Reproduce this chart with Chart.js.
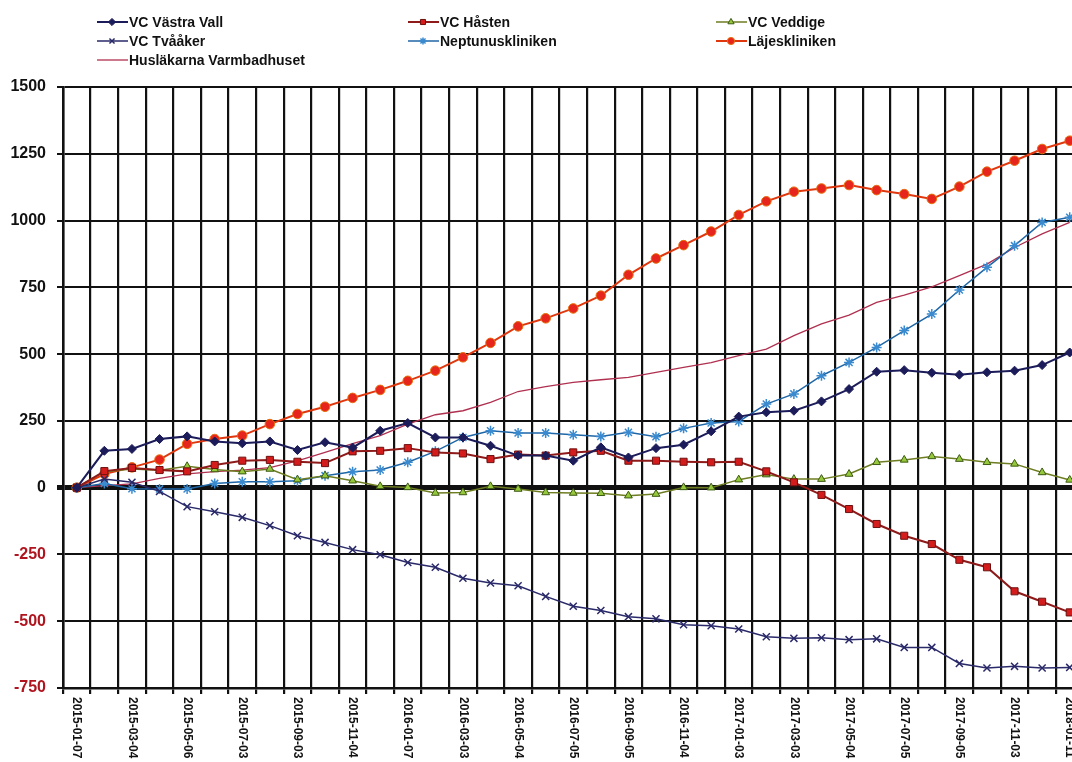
<!DOCTYPE html>
<html>
<head>
<meta charset="utf-8">
<script src="https://cdn.jsdelivr.net/npm/chart.js@4.4.0/dist/chart.umd.min.js"></script>
<style>
  html, body { margin: 0; padding: 0; background: #fff; overflow: hidden; }
  #wrap { width: 1090px; height: 762px; }
</style>
</head>
<body>
<div id="wrap"><canvas id="myChart" width="1090" height="762"></canvas></div>
<script>
// kategorier (bara varannan är utskriven i originalet)
const categories = [
  "2015-01-07", "", "2015-03-04", "", "2015-05-06", "", "2015-07-03", "", "2015-09-03", "",
  "2015-11-04", "", "2016-01-07", "", "2016-03-03", "", "2016-05-04", "", "2016-07-05", "",
  "2016-09-05", "", "2016-11-04", "", "2017-01-03", "", "2017-03-03", "", "2017-05-04", "",
  "2017-07-05", "", "2017-09-05", "", "2017-11-03", "", "2018-01-11"
];

const vastraVall = [0, 138, 145, 182, 192, 173, 166, 173, 141, 170, 150, 213, 242, 188, 188, 157, 120, 120, 101, 151, 113, 148, 161, 211, 266, 282, 288, 323, 369, 434, 440, 430, 423, 432, 438, 459, 506];
const hasten = [0, 62, 74, 66, 61, 85, 101, 104, 97, 92, 136, 138, 148, 132, 128, 107, 124, 120, 132, 138, 101, 101, 97, 95, 97, 61, 20, -27, -80, -136, -180, -211, -270, -298, -388, -427, -467];
const veddige = [0, 60, 70, 65, 80, 68, 60, 70, 30, 45, 26, 5, 1, -20, -18, 5, -5, -18, -20, -21, -30, -24, 1, 0, 30, 49, 32, 32, 51, 95, 104, 117, 107, 95, 89, 57, 29];
const tvaaker = [0, 32, 20, -14, -71, -90, -111, -142, -180, -205, -232, -251, -280, -298, -339, -357, -367, -407, -444, -460, -483, -491, -513, -517, -529, -558, -564, -562, -569, -566, -598, -598, -658, -675, -669, -675, -673];
const neptunus = [0, 16, -4, -5, -5, 16, 22, 22, 26, 45, 60, 66, 95, 136, 188, 213, 205, 205, 198, 192, 207, 191, 222, 242, 248, 313, 351, 419, 469, 525, 588, 650, 740, 825, 906, 993, 1012];
const lajes = [0, 51, 76, 105, 164, 182, 195, 238, 276, 303, 336, 366, 400, 438, 488, 542, 604, 634, 671, 719, 797, 858, 908, 959, 1021, 1072, 1108, 1120, 1133, 1114, 1099, 1081, 1127, 1183, 1224, 1268, 1299];
const varmbadhuset = [0, 8, 14, 35, 52, 60, 66, 75, 100, 132, 165, 195, 238, 273, 288, 319, 360, 378, 394, 404, 413, 432, 450, 468, 494, 519, 569, 613, 646, 694, 721, 752, 794, 837, 899, 950, 993];

const yTicks = { min: -750, max: 1500, step: 250 };

const FONT = '"Liberation Sans", Arial, sans-serif';

// legend i tre kolumner, ritas själv
const legendSlots = [[97, 22], [408, 22], [716, 22], [97, 41], [408, 41], [716, 41], [97, 60]];

const legendAndLabels = {
  id: "legendAndLabels",
  afterDraw(chart) {
    const ctx = chart.ctx;
    const xScale = chart.scales.x;

    // x-etiketter, roterade uppifrån och ner
    ctx.save();
    ctx.fillStyle = "#111";
    ctx.font = "bold 12px " + FONT;
    ctx.textAlign = "left";
    ctx.textBaseline = "middle";
    categories.forEach((lab, i) => {
      if (!lab) return;
      const x = xScale.getPixelForValue(i);
      ctx.save();
      ctx.translate(x, xScale.top + 9);
      ctx.rotate(Math.PI / 2);
      ctx.fillText(lab, 0, 0);
      ctx.restore();
    });
    ctx.restore();

    // legend
    chart.data.datasets.forEach((ds, i) => {
      const [x0, y] = legendSlots[i];
      ctx.save();
      ctx.strokeStyle = ds.borderColor;
      ctx.lineWidth = ds.borderWidth;
      ctx.beginPath();
      ctx.moveTo(x0, y);
      ctx.lineTo(x0 + 31, y);
      ctx.stroke();
      if (ds.pointRadius > 0 && Chart.helpers && Chart.helpers.drawPoint) {
        ctx.fillStyle = ds.pointBackgroundColor;
        ctx.strokeStyle = ds.pointBorderColor;
        ctx.lineWidth = ds.pointBorderWidth;
        Chart.helpers.drawPoint(ctx, {
          pointStyle: ds.pointStyle, radius: 3.6, rotation: 0, borderWidth: ds.pointBorderWidth
        }, x0 + 15, y);
      }
      ctx.fillStyle = "#111";
      ctx.font = "bold 14px " + FONT;
      ctx.textAlign = "left";
      ctx.textBaseline = "middle";
      ctx.fillText(ds.label, x0 + 32, y + 1);
      ctx.restore();
    });
  }
};

new Chart(document.getElementById("myChart"), {
  type: "line",
  data: {
    labels: categories,
    datasets: [
      {
        label: "VC Västra Vall", data: vastraVall,
        borderColor: "#1c1c5a", borderWidth: 2,
        pointStyle: "rectRot", pointRadius: 4.5,
        pointBackgroundColor: "#1c1c5a", pointBorderColor: "#1c1c5a", pointBorderWidth: 1
      },
      {
        label: "VC Håsten", data: hasten,
        borderColor: "#8e1a1a", borderWidth: 2,
        pointStyle: "rect", pointRadius: 5,
        pointBackgroundColor: "#d41c1c", pointBorderColor: "#6e1010", pointBorderWidth: 1
      },
      {
        label: "VC Veddige", data: veddige,
        borderColor: "#6f7d22", borderWidth: 1.5,
        pointStyle: "triangle", pointRadius: 4.5,
        pointBackgroundColor: "#95c83a", pointBorderColor: "#3c5a12", pointBorderWidth: 1
      },
      {
        label: "VC Tvååker", data: tvaaker,
        borderColor: "#2a2a6a", borderWidth: 1.5,
        pointStyle: "crossRot", pointRadius: 5,
        pointBackgroundColor: "#2a2a6a", pointBorderColor: "#2a2a6a", pointBorderWidth: 1.5
      },
      {
        label: "Neptunuskliniken", data: neptunus,
        borderColor: "#1f66a6", borderWidth: 1.5,
        pointStyle: "star", pointRadius: 5,
        pointBackgroundColor: "#3a8ad0", pointBorderColor: "#3a8ad0", pointBorderWidth: 1.5
      },
      {
        label: "Läjeskliniken", data: lajes,
        borderColor: "#e0380e", borderWidth: 2,
        pointStyle: "circle", pointRadius: 4.8,
        pointBackgroundColor: "#e6261c", pointBorderColor: "#e8700e", pointBorderWidth: 1
      },
      {
        label: "Husläkarna Varmbadhuset", data: varmbadhuset,
        borderColor: "#b03050", borderWidth: 1.3,
        pointRadius: 0, pointStyle: "circle",
        pointBackgroundColor: "#b03050", pointBorderColor: "#b03050", pointBorderWidth: 0
      }
    ]
  },
  options: {
    responsive: false,
    animation: false,
    layout: { padding: { top: 87, right: 6, left: 0, bottom: 0 } },
    plugins: {
      legend: { display: false },
      tooltip: { enabled: false }
    },
    elements: { line: { tension: 0 } },
    scales: {
      x: {
        type: "category",
        offset: true,
        grid: { offset: true, color: "#111", lineWidth: 2.2, tickLength: 6, drawTicks: true },
        border: { color: "#111", width: 2.5 },
        ticks: { display: false, autoSkip: false },
        afterFit(scale) { scale.height = 74; }
      },
      y: {
        min: yTicks.min, max: yTicks.max,
        grid: {
          color: "#111",
          lineWidth: (c) => (c.tick && c.tick.value === 0 ? 5 : 2),
          tickLength: 6
        },
        border: { color: "#111", width: 2.5 },
        ticks: {
          stepSize: yTicks.step,
          padding: 11,
          callback: (v) => String(v),
          color: (c) => (c.tick && c.tick.value < 0 ? "#b0141e" : "#111"),
          font: { family: FONT, size: 16, weight: "bold" }
        },
        afterFit(scale) { scale.width = 63; }
      }
    }
  },
  plugins: [legendAndLabels]
});
</script>
</body>
</html>
